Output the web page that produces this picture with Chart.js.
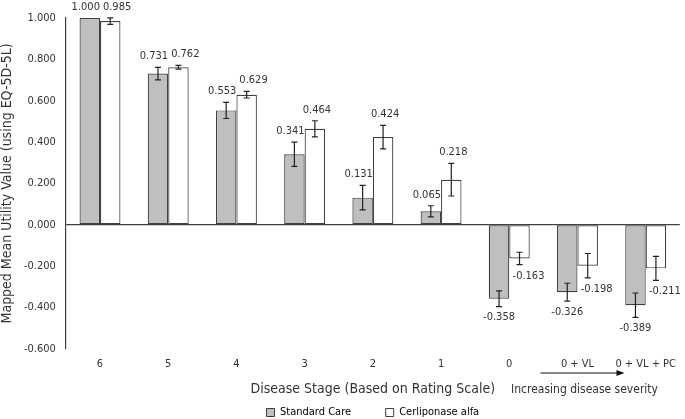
<!DOCTYPE html>
<html>
<head>
<meta charset="utf-8">
<script src="https://cdn.jsdelivr.net/npm/chart.js@4"></script>
<style>
  html, body { margin: 0; padding: 0; background: #fff; }
  #wrap { width: 685px; height: 419px; position: relative; }
</style>
</head>
<body>
<div id="wrap"><canvas id="utility"></canvas></div>
<script>
const stages = ['6', '5', '4', '3', '2', '1', '0', '0 + VL', '0 + VL + PC'];

const standardCare = [1.000, 0.731, 0.553, 0.341, 0.131, 0.065, -0.358, -0.326, -0.389];
const standardCareErr = [0, 0.030, 0.039, 0.059, 0.059, 0.027, 0.038, 0.043, 0.059];

const cerliponase = [0.985, 0.762, 0.629, 0.464, 0.424, 0.218, -0.163, -0.198, -0.211];
const cerliponaseErr = [0.016, 0.009, 0.016, 0.039, 0.057, 0.079, 0.030, 0.059, 0.058];

const yMin = -0.6;
const yMax = 1.0;
const yStep = 0.2;

const FONT = "'DejaVu Sans Condensed', 'DejaVu Sans', sans-serif";
const TEXT = '#333333';
const AXIS = '#404040';

Chart.defaults.font.family = FONT;
Chart.defaults.color = TEXT;

const errorsByDataset = [standardCareErr, cerliponaseErr];

// error bars + value labels
const errorBars = {
    id: 'errorBars',
    afterDatasetsDraw(chart) {
        const ctx = chart.ctx;
        const y = chart.scales.y;
        const scLabels = [];
        ctx.save();
        ctx.font = '11px ' + FONT;
        ctx.textAlign = 'center';
        ctx.textBaseline = 'middle';
        chart.data.datasets.forEach((ds, i) => {
            const meta = chart.getDatasetMeta(i);
            meta.data.forEach((bar, j) => {
                const v = ds.data[j];
                const e = errorsByDataset[i][j];
                const top = y.getPixelForValue(v + e);
                const bot = y.getPixelForValue(v - e);
                if (e > 0) {
                    ctx.strokeStyle = '#222';
                    ctx.lineWidth = 1.2;
                    ctx.beginPath();
                    ctx.moveTo(bar.x, top);
                    ctx.lineTo(bar.x, bot);
                    ctx.moveTo(bar.x - 3, top);
                    ctx.lineTo(bar.x + 3, top);
                    ctx.moveTo(bar.x - 3, bot);
                    ctx.lineTo(bar.x + 3, bot);
                    ctx.stroke();
                }
                const txt = v.toFixed(3);
                const w = ctx.measureText(txt).width;
                let lx = bar.x;
                let ly;
                if (v < 0) {
                    ly = bot + 11;
                    if (i === 1) lx += 9;
                } else {
                    ly = (e > 0 ? top : y.getPixelForValue(v)) - 11;
                    if (i === 0) lx -= 4;
                    if (i === 1) {
                        lx += 2;
                        // keep clear of the neighbouring Standard Care label
                        const sc = scLabels[j];
                        if (sc && Math.abs(sc.y - ly) < 12 && lx - w / 2 < sc.x + sc.w / 2 + 3) {
                            lx = sc.x + sc.w / 2 + 3 + w / 2;
                        }
                    }
                }
                if (i === 0) scLabels[j] = { x: lx, y: ly, w: w };
                ctx.fillStyle = TEXT;
                ctx.fillText(txt, lx, ly);
            });
        });
        ctx.restore();
    }
};

// "Increasing disease severity" arrow under the last categories
const severityNote = {
    id: 'severityNote',
    afterDraw(chart) {
        const ctx = chart.ctx;
        const cx = chart.scales.x.getPixelForValue(7) + 7;
        const ay = 373;
        ctx.save();
        ctx.strokeStyle = '#111';
        ctx.fillStyle = '#111';
        ctx.lineWidth = 1;
        ctx.beginPath();
        ctx.moveTo(cx - 44, ay);
        ctx.lineTo(cx + 34, ay);
        ctx.stroke();
        ctx.beginPath();
        ctx.moveTo(cx + 40, ay);
        ctx.lineTo(cx + 32, ay - 3);
        ctx.lineTo(cx + 32, ay + 3);
        ctx.closePath();
        ctx.fill();
        ctx.fillStyle = TEXT;
        ctx.font = '12px ' + FONT;
        ctx.textAlign = 'center';
        ctx.textBaseline = 'middle';
        ctx.fillText('Increasing disease severity', cx, 390);
        ctx.restore();
    }
};

const ctx1 = document.getElementById('utility');

// eslint-disable-next-line no-unused-vars
const utilityChart = new Chart(ctx1, {
    type: 'bar',
    data: {
        labels: stages,
        datasets: [{
            label: 'Standard Care',
            data: standardCare,
            backgroundColor: '#bfbfbf',
            borderColor: AXIS,
            borderWidth: 1.2,
            borderSkipped: false,
            categoryPercentage: 0.6,
            barPercentage: 1.0
        }, {
            label: 'Cerliponase alfa',
            data: cerliponase,
            backgroundColor: '#ffffff',
            borderColor: AXIS,
            borderWidth: 1.2,
            borderSkipped: false,
            categoryPercentage: 0.6,
            barPercentage: 1.0
        }]
    },
    options: {
        responsive: true,
        maintainAspectRatio: false,
        animation: false,
        layout: {
            // legend reserves ~10px under itself, pull it back down
            padding: { top: 18, right: 0, bottom: -9, left: 0 }
        },
        scales: {
            y: {
                min: yMin,
                max: yMax,
                ticks: {
                    stepSize: yStep,
                    padding: 10,
                    font: { size: 11 },
                    callback: v => (Math.abs(v) < 1e-9 ? 0 : v).toFixed(3)
                },
                grid: {
                    drawTicks: false,
                    color: c => (Math.abs(c.tick.value) < 1e-9 ? AXIS : 'rgba(0,0,0,0)'),
                    lineWidth: 1.2
                },
                border: { display: true, color: AXIS, width: 1.2 },
                title: {
                    display: true,
                    text: 'Mapped Mean Utility Value (using EQ-5D-5L)',
                    font: { size: 14, lineHeight: 1.0 },
                    padding: { top: 0, bottom: 0 }
                }
            },
            x: {
                ticks: { padding: 9, font: { size: 11 } },
                grid: { display: false, drawTicks: false },
                border: { display: false },
                title: {
                    display: true,
                    text: 'Disease Stage (Based on Rating Scale)',
                    font: { size: 14, lineHeight: 1.0 },
                    padding: { top: 2, bottom: 11 }
                }
            }
        },
        plugins: {
            tooltip: { enabled: false },
            legend: {
                position: 'bottom',
                fullSize: false,
                labels: {
                    boxWidth: 8,
                    boxHeight: 8,
                    padding: 0,
                    font: { size: 11, lineHeight: 1.0 },
                    generateLabels: chart => chart.data.datasets.map((ds, i) => ({
                        text: i === 0 ? ds.label + '\u2003\u2003\u2003\u2002' : ds.label,
                        fillStyle: ds.backgroundColor,
                        strokeStyle: ds.borderColor,
                        lineWidth: 1,
                        datasetIndex: i
                    }))
                }
            }
        }
    },
    plugins: [errorBars, severityNote]
});
</script>
</body>
</html>
